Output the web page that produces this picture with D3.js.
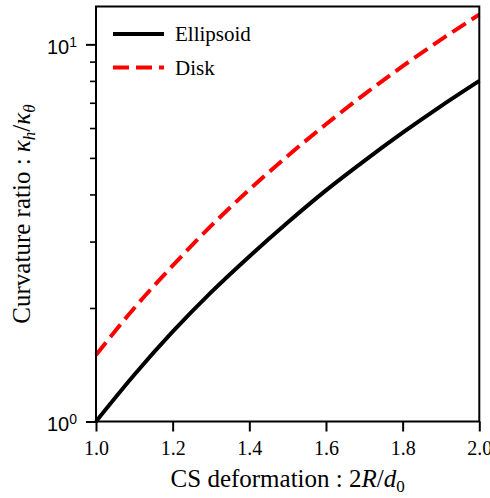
<!DOCTYPE html>
<html>
<head>
<meta charset="utf-8">
<script src="https://cdn.jsdelivr.net/npm/d3@7"></script>
<style>
  body { margin: 0; background: #fff; }
  svg { font-family: "Liberation Serif", "DejaVu Serif", serif; }
</style>
</head>
<body>
<svg id="viz"></svg>
<script>
// ----------------------- DATA
const deformation = [1.0, 1.1, 1.2, 1.3, 1.4, 1.5, 1.6, 1.7, 1.8, 1.9, 2.0];
const ellipsoid = [1.00, 1.33, 1.73, 2.20, 2.74, 3.37, 4.10, 4.91, 5.83, 6.86, 8.00];
const disk = [1.50, 2.00, 2.59, 3.30, 4.12, 5.06, 6.14, 7.37, 8.75, 10.29, 12.00];
const xTicks = [1.0, 1.2, 1.4, 1.6, 1.8, 2.0];
const yMajor = [1, 10];
const yMinor = [2, 3, 4, 5, 6, 7, 8, 9];
const seriesNames = ['Ellipsoid', 'Disk'];

// ----------------------- SETTINGS
const W = 490, H = 498;
const margin = { top: 6.5, right: 10.7, bottom: 76.5, left: 96 },
  width = W - margin.left - margin.right,
  height = H - margin.top - margin.bottom;

const svg = d3.select('#viz').attr('width', W).attr('height', H);
const chart = svg.append('g')
  .attr('transform', `translate(${margin.left}, ${margin.top})`);

// ----------------------- SCALES
const x = d3.scaleLinear().domain([1, 2]).range([0, width]);
const y = d3.scaleLog().domain([1, 12.6]).range([height, 0]);

// x axis
const gx = chart.append('g')
  .attr('transform', `translate(0, ${height})`)
  .call(d3.axisBottom(x).tickValues(xTicks).tickFormat(d3.format('.1f'))
    .tickSize(10).tickPadding(9));
gx.select('.domain').remove();
gx.selectAll('line').attr('stroke', '#000').attr('stroke-width', 2);
gx.selectAll('text').attr('font-size', 20).attr('font-family', 'Liberation Serif').attr('fill', '#000');

// y axis minor ticks
const gyMinor = chart.append('g')
  .call(d3.axisLeft(y).tickValues(yMinor).tickFormat('').tickSize(6));
gyMinor.select('.domain').remove();
gyMinor.selectAll('line').attr('stroke', '#000').attr('stroke-width', 1.6);

// y axis major ticks, labels drawn as 10^n
const gy = chart.append('g')
  .call(d3.axisLeft(y).tickValues(yMajor).tickFormat('').tickSize(10));
gy.select('.domain').remove();
gy.selectAll('line').attr('stroke', '#000').attr('stroke-width', 2);
gy.selectAll('.tick').each(function (d) {
  const t = d3.select(this).append('text')
    .attr('x', -19).attr('y', 9)
    .attr('text-anchor', 'end')
    .attr('fill', '#000')
    .attr('font-size', 20);
  t.append('tspan').text('10');
  t.append('tspan').attr('font-size', 14).attr('dy', -7).text(Math.round(Math.log10(d)));
});

// ----------------------- LINES
const line = d3.line()
  .x((d, i) => x(deformation[i]))
  .y(d => y(d))
  .curve(d3.curveMonotoneX);

chart.append('path')
  .datum(ellipsoid)
  .attr('d', line)
  .attr('fill', 'none')
  .attr('stroke', '#000')
  .attr('stroke-width', 4);

chart.append('path')
  .datum(disk)
  .attr('d', line)
  .attr('fill', 'none')
  .attr('stroke', '#ff0000')
  .attr('stroke-width', 4)
  .attr('stroke-dasharray', '16,7');

// frame
chart.append('rect')
  .attr('width', width).attr('height', height)
  .attr('fill', 'none').attr('stroke', '#000').attr('stroke-width', 2);

// ----------------------- LEGEND
const legend = chart.append('g');
seriesNames.forEach((name, i) => {
  const ly = 27.5 + i * 33.5;
  legend.append('line')
    .attr('x1', 17).attr('x2', 68)
    .attr('y1', ly).attr('y2', ly)
    .attr('stroke', i === 0 ? '#000' : '#ff0000')
    .attr('stroke-width', 4)
    .attr('stroke-dasharray', i === 0 ? null : '16,7');
  legend.append('text')
    .attr('x', 79).attr('y', ly + 7)
    .attr('font-size', 21)
    .attr('fill', '#000')
    .text(name);
});

// ----------------------- AXIS LABELS
const xl = svg.append('text')
  .attr('x', margin.left + width / 2).attr('y', 487)
  .attr('text-anchor', 'middle')
  .attr('font-size', 25)
  .attr('fill', '#000');
xl.append('tspan').text('CS deformation : 2');
xl.append('tspan').attr('font-style', 'italic').text('R');
xl.append('tspan').text('/');
xl.append('tspan').attr('font-style', 'italic').text('d');
xl.append('tspan').attr('font-size', 17).attr('dy', 5).text('0');

const yl = svg.append('text')
  .attr('transform', `translate(30, ${margin.top + height / 2}) rotate(-90)`)
  .attr('text-anchor', 'middle')
  .attr('font-size', 25)
  .attr('fill', '#000');
yl.append('tspan').text('Curvature ratio : ');
yl.append('tspan').attr('font-style', 'italic').text('κ');
yl.append('tspan').attr('font-style', 'italic').attr('font-size', 17).attr('dy', 5).text('h');
yl.append('tspan').attr('dy', -5).text('/');
yl.append('tspan').attr('font-style', 'italic').text('κ');
yl.append('tspan').attr('font-style', 'italic').attr('font-size', 17).attr('dy', 5).text('θ');
</script>
</body>
</html>
